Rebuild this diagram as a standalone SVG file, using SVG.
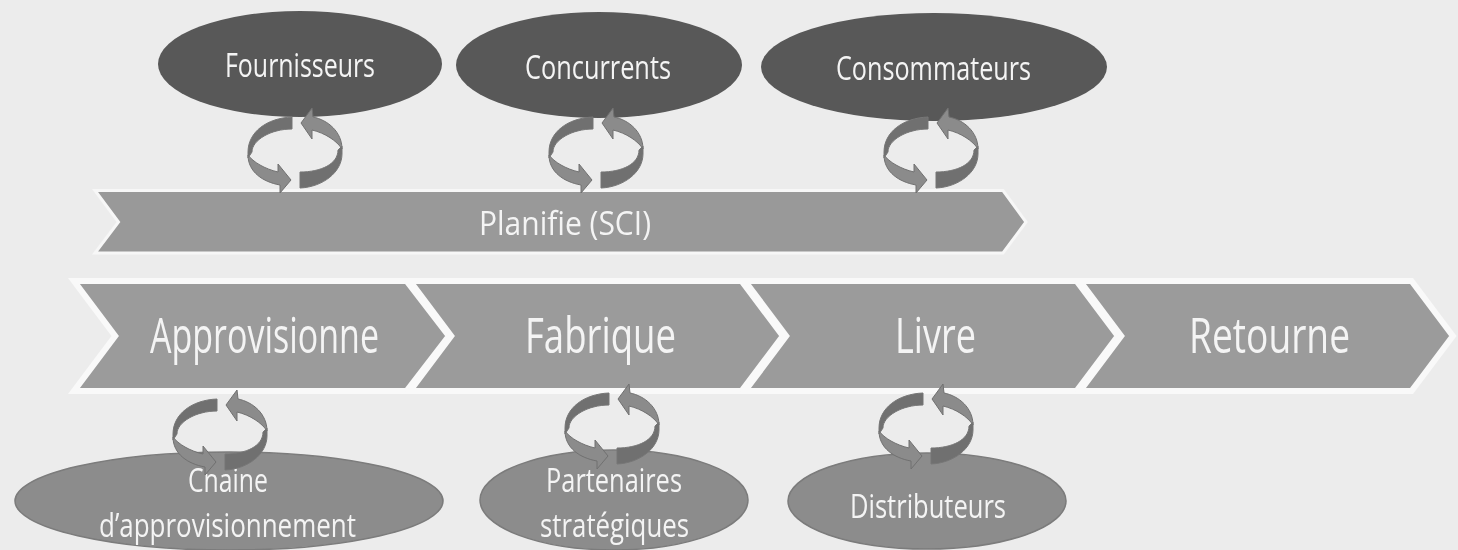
<svg xmlns="http://www.w3.org/2000/svg" width="1458" height="550" viewBox="0 0 1458 550">
<style>
text{font-family:"Open Sans","Liberation Sans",sans-serif;fill:#f4f4f4;font-size:33px}
.big{font-size:49px}
.dk{fill:#585858}
.md{fill:#8c8c8c;stroke:#7b7b7b;stroke-width:1.5}
.bar{fill:#999;stroke:#f7f7f7;stroke-width:3}
.chev{fill:#9b9b9b;stroke:#f9f9f9;stroke-width:6}
.r1{fill:#6f6f6f;stroke:#777;stroke-width:1}
.r2{fill:#8b8b8b;stroke:#707070;stroke-width:1}
</style>
<defs>
<filter id="soft" x="-2%" y="-2%" width="104%" height="104%"><feGaussianBlur stdDeviation="0.7"/></filter>
<clipPath id="cut"><rect x="150" y="466" width="70" height="40"/><rect x="220" y="474" width="14" height="32"/><rect x="234" y="466" width="70" height="40"/></clipPath>
<g id="cycle">
<path class="r1" d="M-3,-35 C-28,-34 -47,-20 -47,0 L-47,6 L-43,0 C-43,-12 -24,-23 -3,-23 Z"/>
<path class="r1" d="M5,20 C26,20 43,12 43,-2 L47,-6 L47,2 C47,20 28,35 5,36 Z"/>
<path class="r2" d="M-47,3 C-42,10 -30,17 -17,20 L-17,12 L-4,28 L-15,41 L-15,33 C-32,30 -47,20 -47,3 Z"/>
<path class="r2" d="M47,-3 C42,-11 30,-19 17,-22 L17,-13 L6,-29 L17,-44 L18,-35 C33,-32 47,-20 47,-3 Z"/>
</g>
</defs>
<rect width="1458" height="550" fill="#ececec"/>
<g filter="url(#soft)">
<g id="n-fournisseurs"><ellipse class="dk" cx="300" cy="64" rx="142" ry="53"/><text x="225" y="77" textLength="150" lengthAdjust="spacingAndGlyphs">Fournisseurs</text></g>
<g id="n-concurrents"><ellipse class="dk" cx="599" cy="65" rx="143" ry="53"/><text x="525" y="79" textLength="146" lengthAdjust="spacingAndGlyphs">Concurrents</text></g>
<g id="n-consommateurs"><ellipse class="dk" cx="934" cy="67" rx="173" ry="54"/><text x="836" y="80" textLength="195" lengthAdjust="spacingAndGlyphs">Consommateurs</text></g>
<g id="n-planifie"><polygon class="bar" points="95,190.5 1003,190.5 1026,222 1003,253 95,253 118.5,222"/><text x="479" y="235" textLength="172" lengthAdjust="spacingAndGlyphs">Planifie (SCI)</text></g>
<g id="n-approvisionne"><polygon class="chev" points="74,281 406.5,281 448.8,336 406.5,391 74,391 115.2,336"/><text class="big" x="150" y="353" textLength="229" lengthAdjust="spacingAndGlyphs">Approvisionne</text></g>
<g id="n-fabrique"><polygon class="chev" points="410,281 741.5,281 782.8,336 741.5,391 410,391 451.2,336"/><text class="big" x="525" y="353" textLength="151" lengthAdjust="spacingAndGlyphs">Fabrique</text></g>
<g id="n-livre"><polygon class="chev" points="745,281 1076.5,281 1117.8,336 1076.5,391 745,391 786.2,336"/><text class="big" x="895" y="353" textLength="81" lengthAdjust="spacingAndGlyphs">Livre</text></g>
<g id="n-retourne"><polygon class="chev" points="1080,281 1411.5,281 1452.8,336 1411.5,391 1080,391 1121.2,336"/><text class="big" x="1189" y="353" textLength="161" lengthAdjust="spacingAndGlyphs">Retourne</text></g>
<g id="n-chaine"><ellipse class="md" cx="229" cy="501" rx="214" ry="49"/><text clip-path="url(#cut)" x="188" y="492" textLength="80" lengthAdjust="spacingAndGlyphs">Cnaine</text><text x="99" y="537" textLength="257" lengthAdjust="spacingAndGlyphs">d’approvisionnement</text></g>
<g id="n-partenaires"><ellipse class="md" cx="614" cy="500" rx="134" ry="50"/><text x="546" y="492" textLength="136" lengthAdjust="spacingAndGlyphs">Partenaires</text><text x="540" y="537" textLength="149" lengthAdjust="spacingAndGlyphs">stratégiques</text></g>
<g id="n-distributeurs"><ellipse class="md" cx="927" cy="501" rx="139" ry="48"/><text x="850" y="518" textLength="156" lengthAdjust="spacingAndGlyphs">Distributeurs</text></g>
<g id="connectors">
<use href="#cycle" x="295" y="152"/>
<use href="#cycle" x="596" y="152"/>
<use href="#cycle" x="931" y="152"/>
<use href="#cycle" x="220" y="434"/>
<use href="#cycle" x="612" y="428"/>
<use href="#cycle" x="926" y="428"/>
</g>
</g>
</svg>
